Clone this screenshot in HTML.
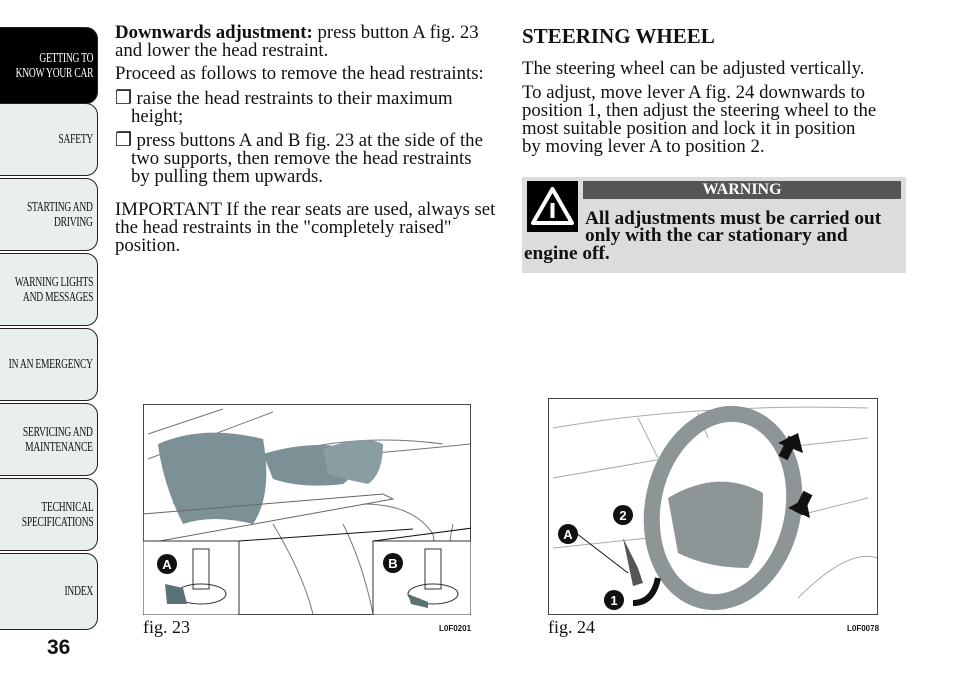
<!DOCTYPE html>
<html><head><meta charset="utf-8"><style>
body{margin:0;width:960px;height:686px;background:#fff;position:relative;overflow:hidden;font-family:"Liberation Serif",serif;color:#111}
.t{position:absolute;white-space:nowrap;font-size:18.8px;line-height:18px}
.tab{position:absolute;left:-10px;width:108px;height:73px;border:1.5px solid #222;border-radius:0 12px 12px 0;background:#e9eeef;box-sizing:border-box;font-family:"Liberation Serif",serif;font-size:14px;line-height:15px;text-align:right;display:flex;align-items:center;justify-content:flex-end;padding-right:4px;white-space:nowrap}
.tab span{display:inline-block;transform:scaleX(0.68);transform-origin:right center;letter-spacing:-0.3px}
.cap{position:absolute;font-size:18px}
.code{position:absolute;font-family:"Liberation Sans",sans-serif;font-weight:bold;font-size:8px}
</style></head><body>
<div class="tab" style="top:27px;height:77px;background:#000;color:#fff"><span>GETTING TO<br>KNOW YOUR CAR</span></div>
<div class="tab" style="top:103px"><span>SAFETY</span></div>
<div class="tab" style="top:178px"><span>STARTING AND<br>DRIVING</span></div>
<div class="tab" style="top:253px"><span>WARNING LIGHTS<br>AND MESSAGES</span></div>
<div class="tab" style="top:328px"><span>IN AN EMERGENCY</span></div>
<div class="tab" style="top:403px"><span>SERVICING AND<br>MAINTENANCE</span></div>
<div class="tab" style="top:478px"><span>TECHNICAL<br>SPECIFICATIONS</span></div>
<div class="tab" style="top:553px;height:77px"><span>INDEX</span></div>
<div style="position:absolute;left:47px;top:636px;font-family:'Liberation Sans',sans-serif;font-weight:bold;font-size:21px">36</div>

<div class="t" style="left:115px;top:24px"><b>Downwards adjustment:</b> press button A fig. 23</div>
<div class="t" style="left:115px;top:42px">and lower the head restraint.</div>
<div class="t" style="left:115px;top:65px">Proceed as follows to remove the head restraints:</div>
<div class="t" style="left:115px;top:90px">❒ raise the head restraints to their maximum</div>
<div class="t" style="left:131px;top:108px">height;</div>
<div class="t" style="left:115px;top:132px">❒ press buttons A and B fig. 23 at the side of the</div>
<div class="t" style="left:131px;top:150px">two supports, then remove the head restraints</div>
<div class="t" style="left:131px;top:168px">by pulling them upwards.</div>
<div class="t" style="left:115px;top:201px">IMPORTANT If the rear seats are used, always set</div>
<div class="t" style="left:115px;top:219px">the head restraints in the "completely raised"</div>
<div class="t" style="left:115px;top:237px">position.</div>

<div class="t" style="left:522px;top:24px;font-size:21px;font-weight:bold;line-height:24px">STEERING WHEEL</div>
<div class="t" style="left:522px;top:60px">The steering wheel can be adjusted vertically.</div>
<div class="t" style="left:522px;top:84px">To adjust, move lever A fig. 24 downwards to</div>
<div class="t" style="left:522px;top:102px">position 1, then adjust the steering wheel to the</div>
<div class="t" style="left:522px;top:120px">most suitable position and lock it in position</div>
<div class="t" style="left:522px;top:138px">by moving lever A to position 2.</div>

<div style="position:absolute;left:522px;top:177px;width:384px;height:96px;background:#dcdcdc"></div>
<svg style="position:absolute;left:527px;top:181px" width="51" height="51"><rect width="51" height="51" fill="#000"/><path d="M25.5 8 L45 42 L6 42 Z" fill="none" stroke="#fff" stroke-width="4" stroke-linejoin="round"/><rect x="23.5" y="22" width="4" height="15" fill="#fff"/></svg>
<div style="position:absolute;left:583px;top:181px;width:318px;height:18px;background:#555;color:#fff;font-weight:bold;font-size:16px;text-align:center;line-height:18px">WARNING</div>
<div class="t" style="left:585px;top:210px;font-weight:bold;font-size:19.3px">All adjustments must be carried out</div>
<div class="t" style="left:585px;top:227px;font-weight:bold;font-size:19.3px">only with the car stationary and</div>
<div class="t" style="left:524px;top:245px;font-weight:bold;font-size:19.3px">engine off.</div>

<svg style="position:absolute;left:143px;top:404px" width="328" height="211">
<rect x="0.5" y="0.5" width="327" height="210" fill="#fff" stroke="#444"/>
<g fill="none" stroke="#777" stroke-width="1">
<path d="M5 30 L80 5 M5 55 L130 8 M30 100 Q150 20 300 40 M310 120 Q300 160 320 200 M240 180 L300 160 M220 50 Q280 45 327 40"/>
<path d="M220 100 Q270 100 290 130 L300 200 M200 120 Q220 160 230 210 M130 120 Q160 170 170 210"/>
</g>
<path d="M15 40 Q60 20 120 35 Q130 90 110 120 Q70 110 40 120 Q20 80 15 40Z" fill="#7c9195"/>
<path d="M120 50 Q170 35 210 45 Q215 70 200 80 Q160 85 130 75Z" fill="#7c9195"/>
<path d="M180 45 Q220 30 240 40 Q240 70 225 80 Q200 75 185 70Z" fill="#8a9ea2"/>
<path d="M0 110 L240 90 L250 95 L0 140Z" fill="none" stroke="#666"/>
<rect x="0" y="137" width="96" height="74" fill="#fff" stroke="#333"/>
<rect x="230" y="137" width="98" height="74" fill="#fff" stroke="#333"/>
<path d="M96 137 L270 125 M230 137 L360 120" stroke="#111"/>
<rect x="50" y="145" width="16" height="40" fill="none" stroke="#333"/><ellipse cx="58" cy="190" rx="25" ry="10" fill="none" stroke="#333"/>
<path d="M22 180 L40 184 L44 200 L24 200Z" fill="#5a7075"/>
<circle cx="24" cy="160" r="10" fill="#111"/><text x="24" y="165" fill="#fff" font-family="Liberation Sans" font-weight="bold" font-size="13" text-anchor="middle">A</text>
<rect x="282" y="145" width="16" height="40" fill="none" stroke="#333"/><ellipse cx="290" cy="190" rx="25" ry="10" fill="none" stroke="#333"/>
<path d="M265 190 L285 198 L285 204 L268 200Z" fill="#5a7075"/>
<circle cx="250" cy="159" r="10" fill="#111"/><text x="250" y="164" fill="#fff" font-family="Liberation Sans" font-weight="bold" font-size="13" text-anchor="middle">B</text>
</svg>
<div class="cap" style="left:143px;top:617px">fig. 23</div>
<div class="code" style="left:439px;top:624px">L0F0201</div>

<svg style="position:absolute;left:548px;top:398px" width="330" height="217">
<rect x="0.5" y="0.5" width="329" height="216" fill="#fff" stroke="#444"/>
<g fill="none" stroke="#aaa"><path d="M5 30 Q150 5 320 10 M5 80 L120 60 M5 150 L100 140 M230 50 L320 40 M240 120 L320 100 M250 200 Q300 150 329 160 M90 20 L110 60 M150 15 L160 40"/></g>
<ellipse cx="175" cy="110" rx="70" ry="95" transform="rotate(12 175 110)" fill="none" stroke="#8e9597" stroke-width="16"/>
<path d="M120 100 Q170 70 215 95 Q215 150 200 170 Q160 170 130 155Z" fill="#8e9597"/>
<path d="M245 40 L235 60 M260 95 L250 115" stroke="#111" stroke-width="10"/>
<path d="M230 45 L250 35 L255 55 Z M240 110 L258 100 L262 120Z" fill="#111"/>
<path d="M75 140 L90 170 L95 185 L85 188Z" fill="#555"/>
<path d="M28 135 L80 175" stroke="#111"/>
<path d="M85 205 Q105 205 110 180" stroke="#111" stroke-width="6" fill="none"/>
<circle cx="75" cy="117" r="10" fill="#111"/><text x="75" y="122" fill="#fff" font-family="Liberation Sans" font-weight="bold" font-size="13" text-anchor="middle">2</text>
<circle cx="20" cy="136" r="10" fill="#111"/><text x="20" y="141" fill="#fff" font-family="Liberation Sans" font-weight="bold" font-size="13" text-anchor="middle">A</text>
<circle cx="66" cy="202" r="10" fill="#111"/><text x="66" y="207" fill="#fff" font-family="Liberation Sans" font-weight="bold" font-size="13" text-anchor="middle">1</text>
</svg>
<div class="cap" style="left:548px;top:617px">fig. 24</div>
<div class="code" style="left:847px;top:624px">L0F0078</div>
</body></html>
